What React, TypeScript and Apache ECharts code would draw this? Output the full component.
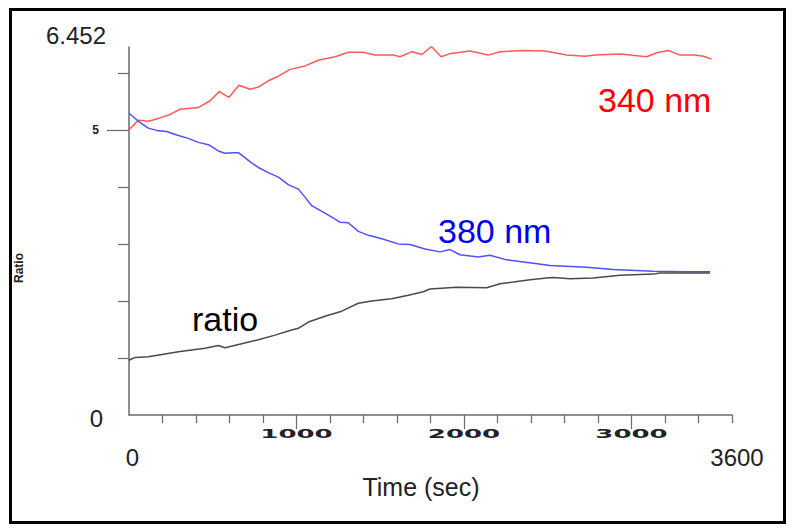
import React, { useEffect, useRef } from 'react';
import * as echarts from 'echarts';

// 340 nm trace (time in s, value)
const t340 = [0, 56, 115, 175, 245, 305, 414, 484, 539, 597, 657, 722, 772, 832, 892, 961, 1051, 1130, 1230, 1309, 1399, 1469, 1578, 1618, 1690, 1749, 1806, 1863, 1921, 2036, 2145, 2215, 2354, 2484, 2613, 2723, 2782, 2931, 3091, 3151, 3220, 3290, 3379, 3429, 3479];
const v340 = [5.00, 5.17, 5.15, 5.20, 5.27, 5.36, 5.39, 5.51, 5.67, 5.57, 5.78, 5.71, 5.75, 5.86, 5.94, 6.06, 6.12, 6.22, 6.28, 6.36, 6.36, 6.31, 6.31, 6.28, 6.37, 6.32, 6.46, 6.28, 6.34, 6.38, 6.31, 6.37, 6.39, 6.38, 6.31, 6.29, 6.31, 6.33, 6.28, 6.35, 6.39, 6.31, 6.31, 6.29, 6.24];

// 380 nm trace
const t380 = [0, 56, 115, 165, 225, 285, 354, 414, 474, 533, 573, 623, 653, 732, 772, 832, 892, 951, 1011, 1051, 1091, 1170, 1260, 1309, 1369, 1429, 1509, 1608, 1678, 1767, 1857, 1916, 1976, 2085, 2155, 2255, 2414, 2513, 2732, 2891, 3130, 3330, 3469];
const v380 = [5.29, 5.15, 5.03, 4.99, 4.97, 4.91, 4.85, 4.78, 4.74, 4.63, 4.59, 4.60, 4.60, 4.42, 4.34, 4.25, 4.17, 4.04, 3.96, 3.82, 3.67, 3.54, 3.38, 3.37, 3.22, 3.15, 3.09, 3.00, 2.99, 2.91, 2.86, 2.90, 2.81, 2.77, 2.80, 2.72, 2.66, 2.62, 2.59, 2.55, 2.52, 2.51, 2.51];

// ratio trace
const tRatio = [0, 36, 115, 215, 295, 374, 454, 533, 573, 673, 772, 872, 971, 1011, 1071, 1170, 1270, 1369, 1449, 1568, 1668, 1757, 1797, 1956, 2135, 2215, 2295, 2394, 2494, 2533, 2633, 2772, 2931, 3130, 3170, 3389, 3469];
const vRatio = [0.96, 1.01, 1.02, 1.07, 1.11, 1.14, 1.17, 1.22, 1.18, 1.25, 1.32, 1.40, 1.49, 1.52, 1.63, 1.73, 1.82, 1.96, 2.00, 2.04, 2.10, 2.16, 2.21, 2.24, 2.23, 2.30, 2.33, 2.37, 2.40, 2.41, 2.39, 2.40, 2.45, 2.47, 2.49, 2.49, 2.49];

// axes
const yMin = 0;
const yMax = 6.452;
const yLabelValues = [0, 5, 6.452];
const yMinorTickValues = [1, 2, 3, 4, 6];
const yMajorTickValues = [5];
const xMin = 0;
const xMax = 3600;
const xEndLabelValues = [0, 3600];
const xMinorTickValues = [200, 400, 600, 800, 1200, 1400, 1600, 1800, 2200, 2400, 2600, 2800, 3200, 3400, 3600];
const xMajorTickValues = [1000, 2000, 3000];
const xMajorLabels = ['1000', '2000', '3000'];

const seriesNames = ['340 nm', '380 nm', 'ratio'];

const pairs = (t: number[], v: number[]) => t.map((x, i) => [x, v[i]]);

export default function App() {
  const ref = useRef<HTMLDivElement>(null);
  useEffect(() => {
    const chart = echarts.init(ref.current!, null, { renderer: 'svg' });
    const axisColor = '#6a6a6a';
    const font = 'Liberation Sans, Arial, sans-serif';
    const option: any = {
      animation: false,
      backgroundColor: '#ffffff',
      grid: { left: 129, top: 47, right: 63, bottom: 113 },
      xAxis: [
        {
          type: 'value', min: xMin, max: xMax, interval: 200,
          axisLine: { show: true, lineStyle: { color: axisColor, width: 1.5 } },
          axisTick: { show: true, customValues: xMinorTickValues, length: 8, lineStyle: { color: axisColor, width: 1.2 } },
          splitLine: { show: false },
          axisLabel: {
            customValues: xEndLabelValues,
            margin: 30,
            formatter: (v: number) => (v === 0 ? '{start|0}' : '{end|' + String(v) + '}'),
            rich: {
              start: { fontSize: 24, color: '#222', fontFamily: font, padding: [0, 0, 0, 7] },
              end: { fontSize: 24, color: '#222', fontFamily: font, padding: [0, 0, 0, 10] },
            },
          },
        },
        {
          type: 'value', min: xMin, max: xMax, position: 'bottom', interval: 200,
          axisLine: { show: false },
          axisTick: { show: true, customValues: xMajorTickValues, length: 14, lineStyle: { color: axisColor, width: 1.2 } },
          splitLine: { show: false },
          axisLabel: { show: false },
        },
      ],
      yAxis: [
        {
          type: 'value', min: yMin, max: yMax,
          axisLine: { show: true, lineStyle: { color: axisColor, width: 1.5 } },
          axisTick: { show: true, customValues: yMinorTickValues, length: 11, lineStyle: { color: axisColor, width: 1.2 } },
          splitLine: { show: false },
          axisLabel: {
            customValues: yLabelValues,
            margin: 23,
            formatter: (v: number) => {
              if (v === 0) return '{zero|0}';
              if (v === 5) return '{five|5}';
              return '{top|' + String(v) + '}';
            },
            rich: {
              zero: { fontSize: 24, color: '#222', fontFamily: font, padding: [6, 3, 0, 0] },
              five: { fontSize: 12, fontWeight: 'bold', color: '#222', fontFamily: font, padding: [0, 7, 0, 0] },
              top: { fontSize: 24, color: '#222', fontFamily: font, padding: [0, 0, 24, 0] },
            },
          },
        },
        {
          type: 'value', min: yMin, max: yMax, position: 'left',
          axisLine: { show: false },
          axisTick: { show: true, customValues: yMajorTickValues, length: 22, lineStyle: { color: axisColor, width: 1.2 } },
          splitLine: { show: false },
          axisLabel: { show: false },
        },
      ],
      series: [
        { name: seriesNames[0], type: 'line', data: pairs(t340, v340), showSymbol: false, symbol: 'none', lineStyle: { color: '#ff5a5a', width: 1.5 }, xAxisIndex: 0, yAxisIndex: 0 },
        { name: seriesNames[1], type: 'line', data: pairs(t380, v380), showSymbol: false, symbol: 'none', lineStyle: { color: '#5050ff', width: 1.5 }, xAxisIndex: 0, yAxisIndex: 0 },
        { name: seriesNames[2], type: 'line', data: pairs(tRatio, vRatio), showSymbol: false, symbol: 'none', lineStyle: { color: '#4a4a4a', width: 1.5 }, xAxisIndex: 0, yAxisIndex: 0 },
      ],
    };
    chart.setOption(option);

    const baseY = chart.convertToPixel({ yAxisIndex: 0 }, 0) as number;
    const majorLabelTexts = xMajorTickValues.map((v, i) => ({
      type: 'text',
      x: chart.convertToPixel({ xAxisIndex: 0 }, v) as number,
      y: baseY + 19,
      scaleX: 2.0,
      style: { text: xMajorLabels[i], fontSize: 13, fontWeight: 'bold', fontFamily: 'DejaVu Sans, sans-serif', fill: '#222', align: 'center', verticalAlign: 'middle' },
    }));

    chart.setOption({
      graphic: [
        { type: 'rect', shape: { x: 10.5, y: 9.5, width: 774, height: 513 }, style: { fill: 'none', stroke: '#000', lineWidth: 3 }, z: 100 },
        { type: 'text', x: 19, y: 268, rotation: Math.PI / 2, style: { text: 'Ratio', fontSize: 12, fontWeight: 'bold', fontFamily: font, fill: '#222', align: 'center', verticalAlign: 'middle' } },
        { type: 'text', x: 421, y: 487, style: { text: 'Time (sec)', fontSize: 25, fontFamily: font, fill: '#222', align: 'center', verticalAlign: 'middle' } },
        { type: 'text', x: 598, y: 100, style: { text: seriesNames[0], fontSize: 34, fontFamily: font, fill: '#ff0000', align: 'left', verticalAlign: 'middle' } },
        { type: 'text', x: 438, y: 231, style: { text: seriesNames[1], fontSize: 34, fontFamily: font, fill: '#0000ee', align: 'left', verticalAlign: 'middle' } },
        { type: 'text', x: 192, y: 319, style: { text: seriesNames[2], fontSize: 34, fontFamily: font, fill: '#000000', align: 'left', verticalAlign: 'middle' } },
        ...majorLabelTexts,
      ],
    });

    return () => chart.dispose();
  }, []);
  return <div ref={ref} style={{ position: 'fixed', left: 0, top: 0, width: 795, height: 528 }} />;
}
